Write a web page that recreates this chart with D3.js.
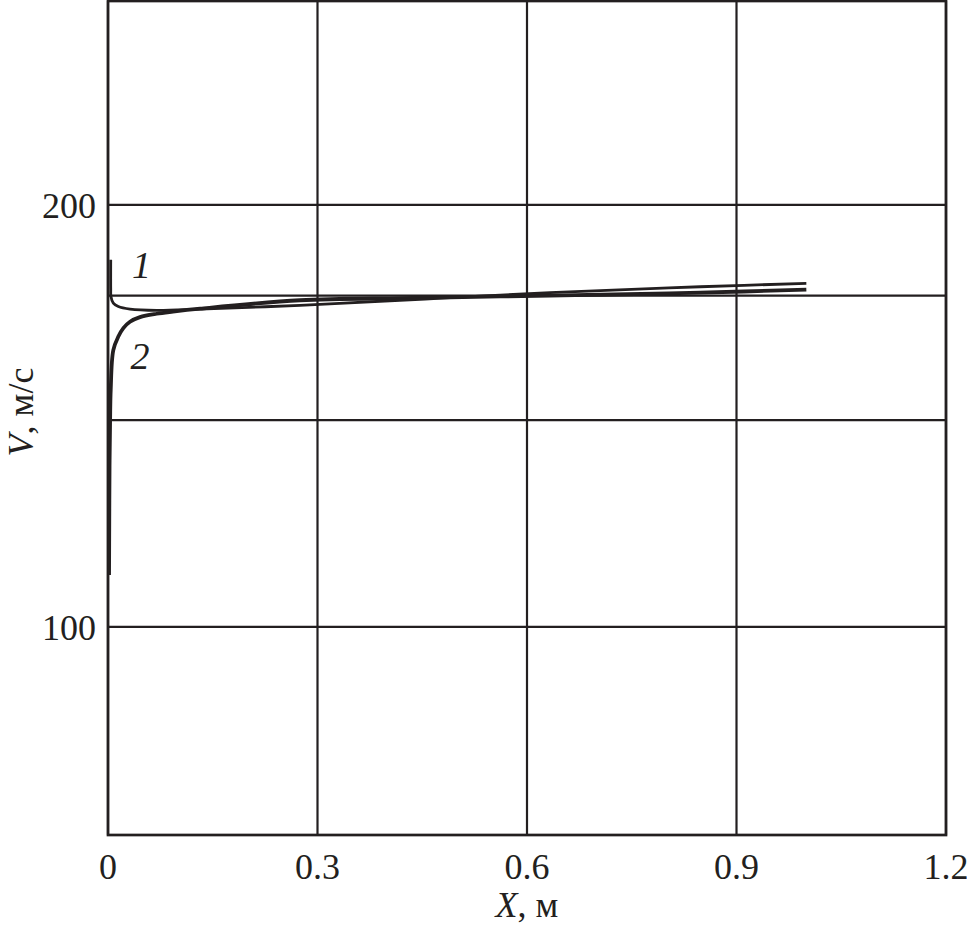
<!DOCTYPE html>
<html>
<head>
<meta charset="utf-8">
<script src="https://cdn.jsdelivr.net/npm/d3@7"></script>
<style>
  html, body { margin: 0; padding: 0; background: #fff; }
  svg { display: block; }
  text { font-family: "Liberation Serif", "DejaVu Serif", serif; fill: #231f20; }
</style>
</head>
<body>
<div id="chart"></div>
<script>
// ---- data ----
const xTicks = [0, 0.3, 0.6, 0.9, 1.2];
const xTickLabels = ["0", "0.3", "0.6", "0.9", "1.2"];
const yLabelTicks = [100, 200];
const yGridValues = [100, 149, 178.5, 200];
const xDomain = [0, 1.2];
const yDomain = [50.7, 248.3];

// curve 1 (thin): [X, V]
const curve1X = [0.0039, 0.0039, 0.0042, 0.0076, 0.0148, 0.0315, 0.0697, 0.132, 0.275, 0.418, 0.49, 0.633, 0.705, 0.848, 1.0];
const curve1V = [187.0, 180.0, 178.3, 176.7, 175.9, 175.3, 175.0, 175.3, 176.2, 177.4, 178.0, 179.2, 179.7, 180.6, 181.4];
// curve 2 (thick): [X, V]
const curve2X = [0.0015, 0.0018, 0.0022, 0.0030, 0.0039, 0.0076, 0.0148, 0.022, 0.0315, 0.0458, 0.0697, 0.093, 0.132, 0.275, 0.418, 0.49, 0.633, 0.705, 0.848, 1.0];
const curve2V = [112.3, 125.0, 138.0, 149.0, 156.2, 165.6, 168.8, 170.8, 172.3, 173.4, 174.2, 174.7, 175.4, 177.4, 177.9, 178.1, 178.5, 178.7, 179.2, 179.9];
const curveLabels = ["1", "2"];

// ---- layout ----
const W = 967, H = 929;
const mLeft = 108, mRight = 946, mTop = 1, mBottom = 835;

const svg = d3.select("#chart").append("svg").attr("width", W).attr("height", H);

const x = d3.scaleLinear().domain(xDomain).range([mLeft, mRight]);
const y = d3.scaleLinear().domain(yDomain).range([mBottom, mTop]);

const ink = "#231f20";

// grid: vertical
svg.append("g").selectAll("line").data(xTicks).join("line")
  .attr("x1", d => x(d)).attr("x2", d => x(d))
  .attr("y1", y(yDomain[0])).attr("y2", y(yDomain[1]))
  .attr("stroke", ink).attr("stroke-width", 2.2);

// grid: horizontal
svg.append("g").selectAll("line").data(yGridValues).join("line")
  .attr("x1", x(xDomain[0])).attr("x2", x(xDomain[1]))
  .attr("y1", d => y(d)).attr("y2", d => y(d))
  .attr("stroke", ink).attr("stroke-width", 2.2);

// frame
svg.append("rect")
  .attr("x", x(xDomain[0])).attr("y", y(yDomain[1]))
  .attr("width", x(xDomain[1]) - x(xDomain[0]))
  .attr("height", y(yDomain[0]) - y(yDomain[1]))
  .attr("fill", "none").attr("stroke", ink).attr("stroke-width", 2.7);

// x tick labels
svg.append("g").selectAll("text").data(xTicks).join("text")
  .attr("x", d => x(d)).attr("y", 879)
  .attr("text-anchor", "middle")
  .attr("font-size", 36)
  .text((d, i) => xTickLabels[i]);

// y tick labels
svg.append("g").selectAll("text").data(yLabelTicks).join("text")
  .attr("x", 96).attr("y", d => y(d) + 13)
  .attr("text-anchor", "end")
  .attr("font-size", 36)
  .text(d => d);

// axis titles
const xt = svg.append("text")
  .attr("x", 527).attr("y", 917)
  .attr("text-anchor", "middle").attr("font-size", 36);
xt.append("tspan").attr("font-style", "italic").text("X");
xt.append("tspan").text(", м");

const yt = svg.append("text")
  .attr("transform", "translate(33,412) rotate(-90)")
  .attr("text-anchor", "middle").attr("font-size", 36);
yt.append("tspan").attr("font-style", "italic").text("V");
yt.append("tspan").text(", м/с");

// curves
const line = d3.line().x(d => x(d[0])).y(d => y(d[1])).curve(d3.curveCatmullRom.alpha(0.5));
const c1 = curve1X.map((v, i) => [v, curve1V[i]]);
const c2 = curve2X.map((v, i) => [v, curve2V[i]]);

svg.append("path").attr("d", line(c2)).attr("fill", "none")
  .attr("stroke", ink).attr("stroke-width", 3.8);
svg.append("path").attr("d", line(c1)).attr("fill", "none")
  .attr("stroke", ink).attr("stroke-width", 2.8);

// curve labels
svg.append("text").attr("x", x(0.048)).attr("y", y(182.7))
  .attr("text-anchor", "middle").attr("font-size", 38).attr("font-style", "italic")
  .text(curveLabels[0]);
svg.append("text").attr("x", x(0.046)).attr("y", y(161.0))
  .attr("text-anchor", "middle").attr("font-size", 38).attr("font-style", "italic")
  .text(curveLabels[1]);
</script>
</body>
</html>
